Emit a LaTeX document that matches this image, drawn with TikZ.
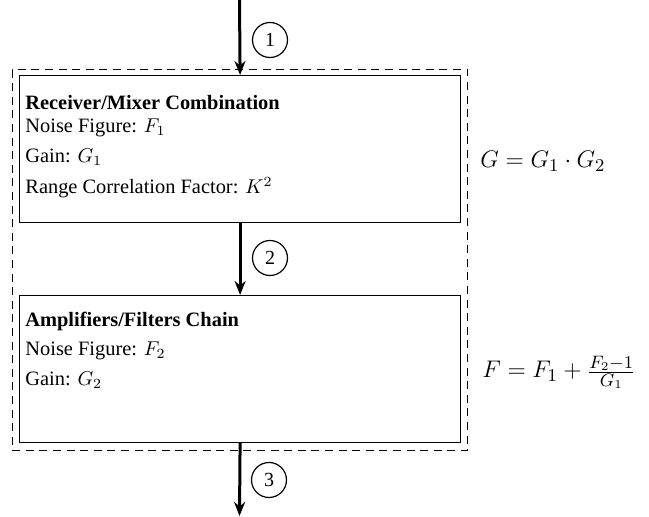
\documentclass[tikz,border=0pt]{standalone}
\usepackage[no-math]{fontspec}
\setmainfont{Liberation Serif}
\usetikzlibrary{arrows.meta}
\begin{document}
\begin{tikzpicture}[x=0.5pt,y=-0.5pt,
  blockbox/.style={draw,line width=0.6pt,inner sep=0pt,anchor=north west,minimum width=220.5pt,minimum height=73.5pt},
  groupbox/.style={draw,line width=0.6pt,dash pattern=on 4pt off 2.8pt,inner sep=0pt,anchor=north west,minimum width=227.75pt,minimum height=190.5pt},
  flow/.style={line width=1.5pt,-{Stealth[length=7pt,width=5.5pt]}},
  num/.style={draw,circle,line width=0.6pt,minimum size=17.5pt,inner sep=0pt,font=\fontsize{10}{12}\selectfont},
  txt/.style={anchor=base west,inner sep=0pt,font=\fontsize{10.2}{12}\selectfont},
  eq/.style={anchor=base west,inner sep=0pt,font=\fontsize{12.9}{15}\selectfont}]
\useasboundingbox (0,0) rectangle (649,517);
\node[groupbox] (grp) at (11.5,69) {};
\node[blockbox] (b1) at (19,75) {};
\node[blockbox] (b2) at (19,295) {};
\coordinate (top) at (239.5,0);
\coordinate (bot) at (239.5,516);
\draw[flow] (top) -- (b1.north);
\draw[flow] (b1.south) -- (b2.north);
\draw[flow] (b2.south) -- (bot);
\node[num] (n1) at (270,40) {1};
\node[num] (n2) at (270,258) {2};
\node[num] (n3) at (269,480) {3};
\node[txt,font=\fontsize{10.2}{12}\selectfont\bfseries] (t1) at (25,110) {Receiver/Mixer Combination};
\node[txt] (t2) at (25,133) {Noise Figure: $F_1$};
\node[txt] (t3) at (25,163) {Gain: $G_1$};
\node[txt] (t4) at (25,194) {Range Correlation Factor: $K^2$};
\node[txt,font=\fontsize{10.2}{12}\selectfont\bfseries] (u1) at (25,327) {Amplifiers/Filters Chain};
\node[txt] (u2) at (25,356) {Noise Figure: $F_2$};
\node[txt] (u3) at (25,386) {Gain: $G_2$};
\node[eq] (eg) at (480,168) {$G = G_1 \cdot G_2$};
\node[eq] (ef) at (482,378) {$F = F_1 + \frac{F_2 - 1}{G_1}$};
\end{tikzpicture}
\end{document}
